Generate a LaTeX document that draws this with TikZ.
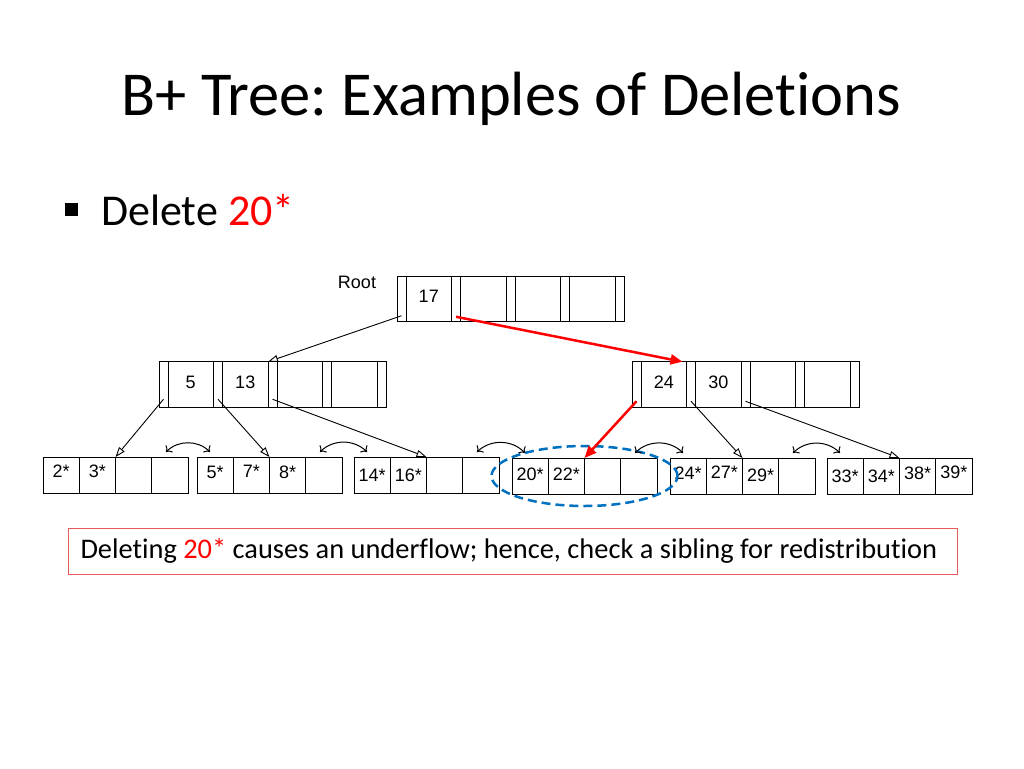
\documentclass[tikz,border=0pt]{standalone}
\usepackage{fontspec}
\setmainfont{Carlito}[Ligatures=CommonOff]
\newfontfamily\arialfont{Liberation Sans}
\usetikzlibrary{shapes}
\usetikzlibrary{arrows.meta}
\usetikzlibrary{positioning}
\usetikzlibrary{calc}
\definecolor{delred}{RGB}{255,0,0}
\definecolor{boxred}{RGB}{232,90,90}
\definecolor{ovalblue}{RGB}{0,112,192}
\tikzstyle{ptr}=[rectangle,draw,line width=1pt,minimum width=9pt,minimum height=45.5pt,
        inner sep=0pt,outer sep=0pt]
\tikzstyle{key}=[rectangle,draw,line width=1pt,minimum width=45.5pt,minimum height=45.5pt,
        inner sep=0pt,outer sep=0pt,font=\arialfont\fontsize{18}{18}\selectfont,
        text height=12.9pt,text depth=5pt]
\tikzstyle{leaf}=[rectangle,draw,line width=1pt,minimum width=36.25pt,minimum height=36pt,
        inner sep=0pt,outer sep=0pt,font=\arialfont\fontsize{18}{18}\selectfont,
        text height=12.9pt,text depth=0pt]
\tikzstyle{link}=[-{Triangle[open,length=10pt,width=7pt]},line width=0.9pt]
\tikzstyle{redlink}=[-{Triangle[length=12pt,width=10pt]},line width=2.5pt,draw=delred,fill=delred]
\tikzstyle{sibling}=[{To[length=5pt,width=10pt]}-{To[length=5pt,width=10pt]},line width=1pt]
\tikzstyle{oval}=[ellipse,draw=ovalblue,line width=2.5pt,dash pattern=on 9pt off 5pt,
        minimum width=186pt,minimum height=60pt,inner sep=0pt]
% index node: name, left x, middle y, keys
\newcommand{\treenode}[4]{%
  \foreach \k [count=\i] in {#4}
    \node[key] (#1-k\i) at (#2+\i*54.5-22.75,#3) {\k};
  \foreach \i in {0,...,4}
    \node[ptr] (#1-p\i) at (#2+\i*54.5+4.5,#3) {};
}
% leaf: name, left x, middle y, key/raise
\newcommand{\leafnode}[4]{%
  \foreach \k/\dy [count=\i] in {#4}
    \node[leaf] (#1-\i) at (#2+\i*36.25-18.125,#3) {\raisebox{\dy pt}{\k}};
}
\frenchspacing

\begin{document}
\begin{tikzpicture}[x=1pt,y=-1pt]
\path[fill=white,use as bounding box] (0,0) rectangle (1024,768);
\node[anchor=base,font=\fontsize{62.5}{70}\selectfont] (title) at (511.5,115) {B+ Tree: Examples of Deletions};
\node[fill=black,minimum size=13pt,inner sep=0pt] (bullet) at (71.5,209.5) {};
\node[anchor=base west,inner sep=0pt,font=\fontsize{44}{50}\selectfont] (item) at (101,225) {Delete \textcolor{delred}{20*}};
\node[font=\arialfont\fontsize{18}{18}\selectfont] (rootlabel) at (357,282) {Root};
\treenode{r}{397}{299}{17,{},{},{}}
\treenode{i1}{159}{384.5}{5,13,{},{}}
\treenode{i2}{632}{384.5}{24,30,{},{}}
\leafnode{l1}{43}{475}{2*/4,3*/4,{}/0,{}/0}
\leafnode{l2}{197}{475}{5*/3,7*/4,8*/3,{}/0}
\leafnode{l3}{354}{475}{14*/0,16*/0,{}/0,{}/0}
\leafnode{l4}{512}{476}{20*/2,22*/2,{}/0,{}/0}
\leafnode{l5}{670}{476}{24*/3,27*/4,29*/1,{}/0}
\leafnode{l6}{827}{476}{33*/0,34*/0,38*/3,39*/4}
\node[oval] (under) at (l4-2.east) {};
\node[draw=boxred,line width=1pt,anchor=west,minimum height=46pt,text width=865pt,inner xsep=12pt,
      align=flush left,font=\fontsize{28.4}{32}\selectfont] (note) at (68,551)
      {Deleting \textcolor{delred}{20*} causes an underflow; hence, check a sibling for redistribution};
%pointers
\draw[link] ([yshift=6pt]r-p0.south) -- (i1-p2.north west);
\draw[redlink] ([yshift=5pt]r-p1.south) -- ([xshift=-4pt]i2-p1.north west);
\draw[link] ([yshift=8pt]i1-p0.south) -- (l1-3.north west);
\draw[link] ([yshift=8pt]i1-p1.south) -- (l2-3.north west);
\draw[link] ([yshift=8pt]i1-p2.south) -- (l3-3.north west);
\draw[redlink] ([yshift=6pt]i2-p0.south) -- (l4-3.north west);
\draw[link] ([yshift=6pt]i2-p1.south) -- (l5-3.north west);
\draw[link] ([yshift=6pt]i2-p2.south) -- (l6-3.north west);
\foreach \a/\b in {l1/l2,l2/l3,l3/l4,l4/l5,l5/l6}
  \draw[sibling] ([xshift=-22pt,yshift=5pt]\a-4.north east) to[bend left=45] ([xshift=13pt,yshift=5pt]\b-1.north west);
\end{tikzpicture}
\end{document}
